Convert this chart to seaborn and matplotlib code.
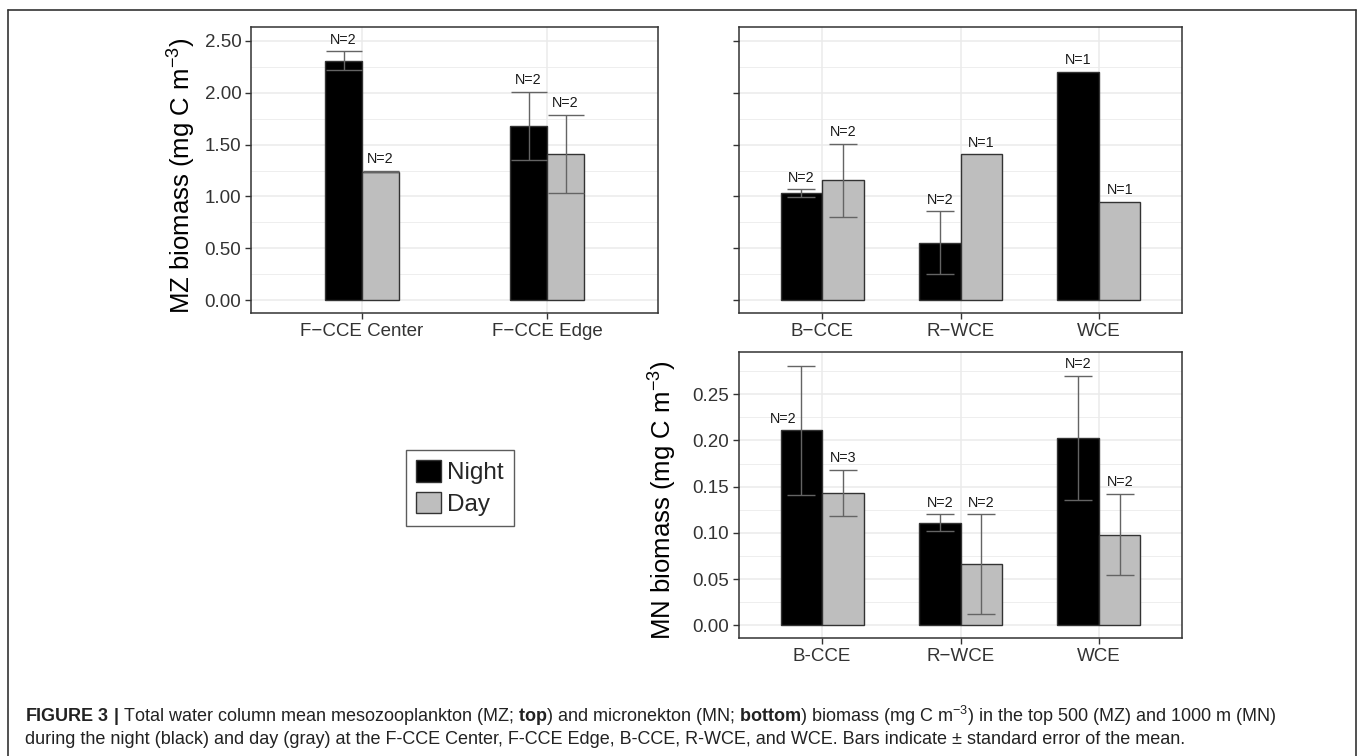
import matplotlib
matplotlib.use('Agg')
import matplotlib.pyplot as plt
import matplotlib.patches as mpatches
from matplotlib.lines import Line2D
from matplotlib.ticker import MultipleLocator, FormatStrFormatter
import seaborn as sns
import numpy as np
import pandas as pd

# ---- data ----
periods = ['Night', 'Day']

mz_left_sites = ['F\u2212CCE Center', 'F\u2212CCE Edge']
mz_left_night = [2.31, 1.68]
mz_left_night_se = [0.09, 0.33]
mz_left_night_n = [2, 2]
mz_left_day = [1.24, 1.41]
mz_left_day_se = [0.005, 0.38]
mz_left_day_n = [2, 2]

mz_right_sites = ['B\u2212CCE', 'R\u2212WCE', 'WCE']
mz_right_night = [1.03, 0.555, 2.20]
mz_right_night_se = [0.04, 0.30, np.nan]
mz_right_night_n = [2, 2, 1]
mz_right_day = [1.155, 1.405, 0.95]
mz_right_day_se = [0.35, np.nan, np.nan]
mz_right_day_n = [2, 1, 1]

mn_sites = ['B-CCE', 'R\u2212WCE', 'WCE']
mn_night = [0.211, 0.111, 0.203]
mn_night_se = [0.070, 0.009, 0.067]
mn_night_n = [2, 2, 2]
mn_day = [0.143, 0.066, 0.098]
mn_day_se = [0.025, 0.054, 0.044]
mn_day_n = [3, 2, 2]

W, H = 1357, 756
dark = '#333333'
grid_c = '#EBEBEB'
day_c = '#BEBEBE'

sns.set_style('white')
plt.rcParams['font.family'] = ['Liberation Sans', 'DejaVu Sans']
plt.rcParams['mathtext.fontset'] = 'custom'
plt.rcParams['mathtext.rm'] = 'Liberation Sans'
plt.rcParams['mathtext.bf'] = 'Liberation Sans:bold'
plt.rcParams['mathtext.it'] = 'Liberation Sans:italic'


def make_df(sites, night, night_se, night_n, day, day_se, day_n):
    rows = []
    for s, v, e, n in zip(sites, night, night_se, night_n):
        rows.append(dict(site=s, period='Night', biomass=v, se=e, n=n))
    for s, v, e, n in zip(sites, day, day_se, day_n):
        rows.append(dict(site=s, period='Day', biomass=v, se=e, n=n))
    return pd.DataFrame(rows)


def panel(rect, df, sites, width, capsize, ylim, major, minor, show_ylabels, special=None):
    ax = fig.add_axes(rect)
    sns.barplot(data=df, x='site', y='biomass', hue='period', order=sites,
                hue_order=periods, palette={'Night': 'black', 'Day': day_c},
                width=width, edgecolor=dark, linewidth=1.0, errorbar=None,
                legend=False, saturation=1, ax=ax)
    for cont, per in zip(ax.containers, periods):
        sub = df[df.period == per].set_index('site').loc[sites]
        for bar, (site, row) in zip(cont.patches, sub.iterrows()):
            xc = bar.get_x() + bar.get_width() / 2
            top = row.biomass
            if not np.isnan(row.se):
                ax.errorbar(xc, row.biomass, yerr=row.se, fmt='none',
                            ecolor='#646464', elinewidth=1.0, capsize=capsize,
                            capthick=1.0, zorder=3)
                top = row.biomass + row.se
            dx = 0
            if special is not None and (per, site) == special:
                # label sits beside the error bar, just over the bar
                top = row.biomass
                dx = -13
            ax.annotate(f'N={row.n}', (xc, top), xytext=(dx, 5.5),
                        textcoords='offset points', ha='center', va='baseline',
                        fontsize=10.3, color='#1a1a1a')
    ax.set_xlim(-0.6, len(sites) - 0.4)
    ax.set_ylim(*ylim)
    ax.yaxis.set_major_locator(MultipleLocator(major))
    ax.yaxis.set_minor_locator(MultipleLocator(minor))
    ax.yaxis.set_major_formatter(FormatStrFormatter('%.2f'))
    ax.set_axisbelow(True)
    ax.grid(True, which='major', axis='both', color=grid_c, lw=1.1)
    ax.grid(True, which='minor', axis='y', color=grid_c, lw=0.6)
    ax.tick_params(which='major', length=4, width=1, color=dark, pad=3,
                   labelsize=13.5, labelcolor='#333333', left=True, bottom=True,
                   labelleft=show_ylabels)
    ax.tick_params(which='minor', length=0)
    for sp in ax.spines.values():
        sp.set_color(dark)
        sp.set_linewidth(1.1)
    ax.set_xlabel('')
    ax.set_ylabel('')
    return ax


fig = plt.figure(figsize=(W / 100, H / 100), dpi=100)

df_tl = make_df(mz_left_sites, mz_left_night, mz_left_night_se, mz_left_night_n,
                mz_left_day, mz_left_day_se, mz_left_day_n)
df_tr = make_df(mz_right_sites, mz_right_night, mz_right_night_se, mz_right_night_n,
                mz_right_day, mz_right_day_se, mz_right_day_n)
df_b = make_df(mn_sites, mn_night, mn_night_se, mn_night_n,
               mn_day, mn_day_se, mn_day_n)

ax1 = panel([251 / W, 1 - 313 / H, 407 / W, 286 / H], df_tl, mz_left_sites, 0.4, 13,
            (-0.125, 2.635), 0.5, 0.25, True)
ax1.set_ylabel('MZ biomass (mg C m$^{-3}$)', fontsize=18.5, color='black', va='center')
ax1.yaxis.set_label_coords(-0.1695, 0.48)

ax2 = panel([739 / W, 1 - 313 / H, 443 / W, 286 / H], df_tr, mz_right_sites, 0.6, 10,
            (-0.125, 2.635), 0.5, 0.25, False)

ax3 = panel([739 / W, 1 - 638.3 / H, 443 / W, 286.6 / H], df_b, mn_sites, 0.6, 10,
            (-0.014, 0.296), 0.05, 0.025, True, special=('Night', 'B-CCE'))
ax3.set_ylabel('MN biomass (mg C m$^{-3}$)', fontsize=18.5, color='black', va='center')
ax3.yaxis.set_label_coords(-0.1716, 0.48)

handles = [mpatches.Patch(facecolor='black', edgecolor=dark, lw=1),
           mpatches.Patch(facecolor=day_c, edgecolor=dark, lw=1)]
leg = fig.legend(handles, periods, loc='center', bbox_to_anchor=(460 / W, 1 - 488 / H),
                 fontsize=17.5, frameon=True, fancybox=False, edgecolor=dark,
                 handlelength=1.05, handleheight=1.0, handletextpad=0.25,
                 labelspacing=0.3, borderpad=0.4, borderaxespad=0)
leg.get_frame().set_linewidth(1.0)

# caption
cap1 = (r'$\mathbf{FIGURE\ 3\ |}$ Total water column mean mesozooplankton (MZ; $\mathbf{top}$) '
        r'and micronekton (MN; $\mathbf{bottom}$) biomass (mg C m$^{-3}$) in the top 500 (MZ) '
        r'and 1000 m (MN)')
cap2 = ('during the night (black) and day (gray) at the F-CCE Center, F-CCE Edge, B-CCE, '
        'R-WCE, and WCE. Bars indicate \u00b1 standard error of the mean.')
fig.text(25 / W, 1 - 716 / H, cap1, fontsize=13, va='center', ha='left', color='#222222')
fig.text(25 / W, 1 - 740 / H, cap2, fontsize=13, va='center', ha='left', color='#222222')

# outer frame of the figure box
for xs, ys in [([8, 8], [756, 10]), ([8, 1356], [10, 10]), ([1356, 1356], [10, 756])]:
    fig.add_artist(Line2D([x / W for x in xs], [1 - y / H for y in ys],
                          transform=fig.transFigure, color=dark, lw=1.2))

fig.savefig('out.png', dpi=100)
